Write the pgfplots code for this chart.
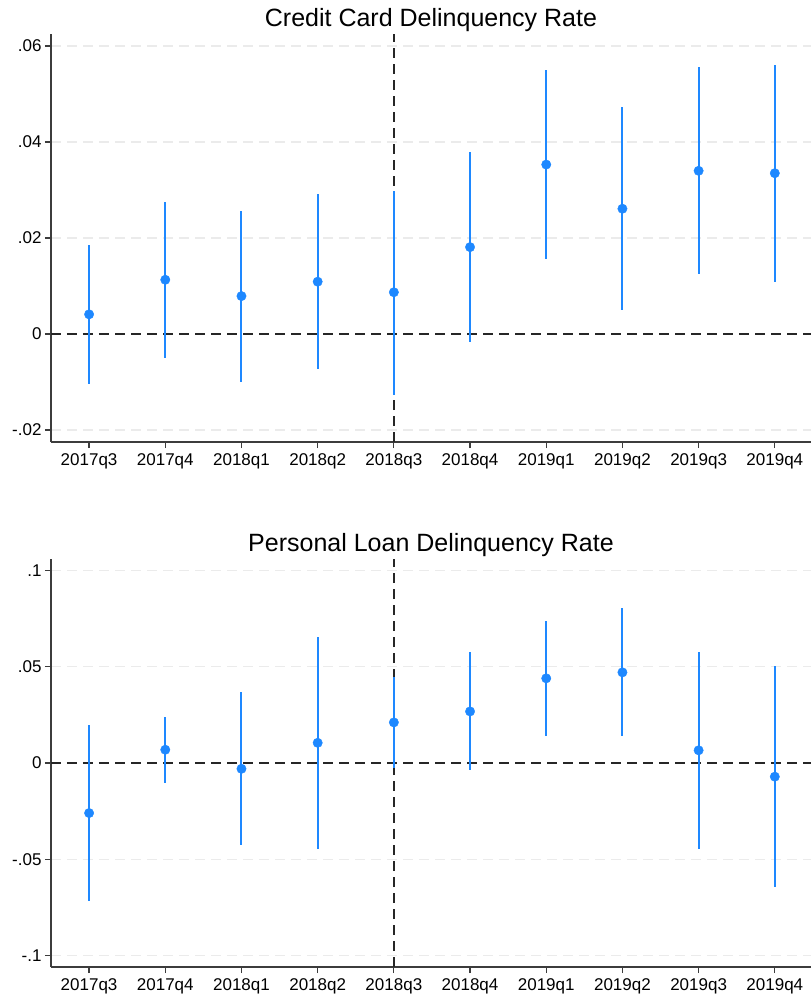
\documentclass[border=0pt]{standalone}
\usepackage{pgfplots}
\usepackage{pgfplotstable}
\pgfplotsset{compat=1.18}
\usepackage{fontspec}
\setmainfont{Liberation Sans}
\definecolor{ciblue}{HTML}{1E88FF}
\definecolor{gridc}{HTML}{EBEBEB}
\definecolor{axc}{HTML}{3C3C3C}

\pgfplotstableread{
x y lo hi
0 0.0041 -0.0104 0.0185
1 0.0113 -0.0049 0.0276
2 0.0079 -0.0099 0.0257
3 0.0109 -0.0072 0.0292
4 0.0087 -0.0127 0.0298
5 0.0181 -0.0016 0.0379
6 0.0353 0.0156 0.0550
7 0.0261 0.0051 0.0472
8 0.0340 0.0126 0.0556
9 0.0335 0.0109 0.0560
}\cc

\pgfplotstableread{
x y lo hi
0 -0.0260 -0.0719 0.0195
1 0.0069 -0.0104 0.0240
2 -0.0030 -0.0424 0.0369
3 0.0105 -0.0445 0.0654
4 0.0211 -0.0026 0.0448
5 0.0268 -0.0038 0.0577
6 0.0440 0.0138 0.0739
7 0.0471 0.0138 0.0803
8 0.0066 -0.0449 0.0578
9 -0.0071 -0.0644 0.0502
}\pl

\pgfplotsset{
  stataaxis/.style={
    scale only axis,
    width=760pt, height=408pt,
    anchor=north west,
    xmin=-0.5, xmax=9.475,
    axis x line*=bottom, axis y line*=left,
    axis line style={-, line width=1.2pt, axc},
    xtick={0,...,9},
    xticklabels={2017q3,2017q4,2018q1,2018q2,2018q3,2018q4,2019q1,2019q2,2019q3,2019q4},
    scaled y ticks=false,
    tick align=outside,
    major tick length=6pt,
    tick style={line width=1.2pt, axc},
    ymajorgrids,
    grid style={dashed, dash pattern=on 10pt off 6pt, line width=1.3pt, gridc},
    tick label style={font=\fontsize{17}{20}\selectfont, black},
    xticklabel style={yshift=-2pt},
    title style={font=\fontsize{25}{30}\selectfont, anchor=base, at={(0.5,1)}, yshift=2pt},
    clip=false,
  },
  ciplot/.style={
    only marks, mark=*, mark size=4.7pt, color=ciblue,
    error bars/.cd, y dir=both, y explicit, error mark=none,
    error bar style={line width=2pt, solid, ciblue},
  },
  refline/.style={black!85, line width=1.5pt, dash pattern=on 10pt off 6pt, forget plot},
}

\begin{document}
\begin{tikzpicture}
\path[use as bounding box] (-51pt,34pt) rectangle (760pt,-965pt);
\begin{axis}[stataaxis, at={(0pt,0pt)},
  title={Credit Card Delinquency Rate},
  ymin=-0.0225, ymax=0.0625,
  ytick={-0.02,0,0.02,0.04,0.06},
  yticklabels={-.02,0,.02,.04,.06}]
\addplot[refline] coordinates {(-0.5,0) (9.475,0)};
\addplot[refline] coordinates {(4,-0.0225) (4,0.0625)};
\addplot[ciplot] table[x=x, y=y, y error plus expr=\thisrow{hi}-\thisrow{y}, y error minus expr=\thisrow{y}-\thisrow{lo}] {\cc};
\end{axis}
\begin{axis}[stataaxis, at={(0pt,-525pt)},
  title={Personal Loan Delinquency Rate},
  ymin=-0.106, ymax=0.106,
  ytick={-0.1,-0.05,0,0.05,0.1},
  yticklabels={-.1,-.05,0,.05,.1}]
\addplot[refline] coordinates {(-0.5,0) (9.475,0)};
\addplot[refline] coordinates {(4,-0.106) (4,0.106)};
\addplot[ciplot] table[x=x, y=y, y error plus expr=\thisrow{hi}-\thisrow{y}, y error minus expr=\thisrow{y}-\thisrow{lo}] {\pl};
\end{axis}
\end{tikzpicture}
\end{document}
